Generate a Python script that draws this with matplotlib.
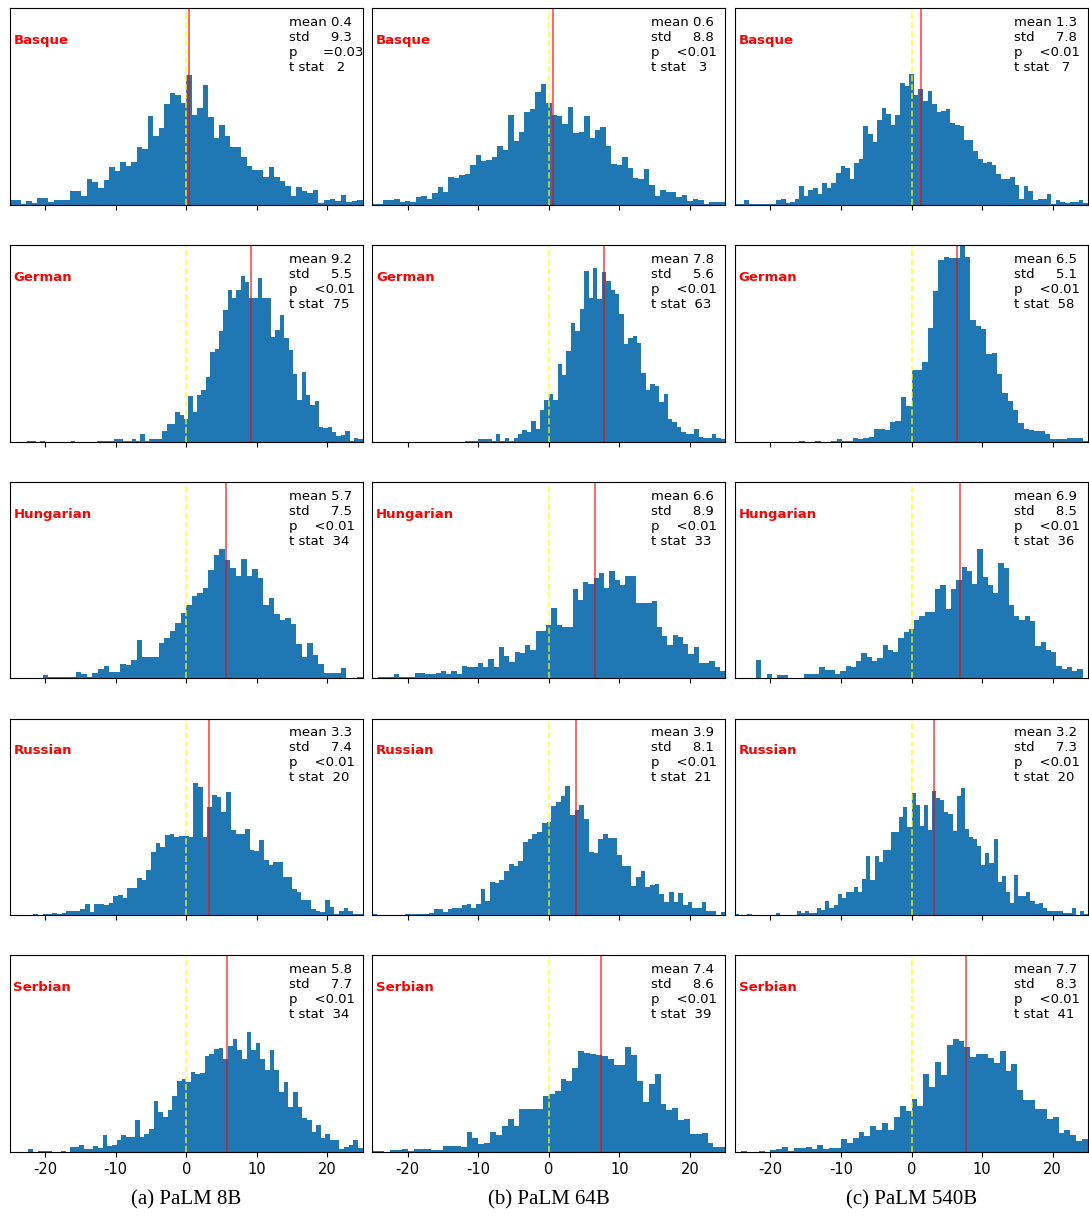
import numpy as np
import matplotlib.pyplot as plt

plt.rcParams['axes.unicode_minus'] = False

models = ['(a) PaLM 8B', '(b) PaLM 64B', '(c) PaLM 540B']
languages = ['Basque', 'German', 'Hungarian', 'Russian', 'Serbian']

# summary numbers printed in each panel (rows = languages)
mean_8b = [0.4, 9.2, 5.7, 3.3, 5.8]
std_8b = [9.3, 5.5, 7.5, 7.4, 7.7]
p_8b = ['=0.03', '<0.01', '<0.01', '<0.01', '<0.01']
t_8b = [2, 75, 34, 20, 34]

mean_64b = [0.6, 7.8, 6.6, 3.9, 7.4]
std_64b = [8.8, 5.6, 8.9, 8.1, 8.6]
p_64b = ['<0.01', '<0.01', '<0.01', '<0.01', '<0.01']
t_64b = [3, 63, 33, 21, 39]

mean_540b = [1.3, 6.5, 6.9, 3.2, 7.7]
std_540b = [7.8, 5.1, 8.5, 7.3, 8.3]
p_540b = ['<0.01', '<0.01', '<0.01', '<0.01', '<0.01']
t_540b = [7, 58, 36, 20, 41]

# histogram bar heights, bins spread evenly over [-25, 25]
basque_8b = [14, 14, 2, 12, 4, 19, 21, 7, 15, 15, 15, 42, 42, 27, 78, 69, 49, 75, 114, 102,
             129, 115, 129, 172, 168, 265, 207, 229, 302, 335, 329, 305, 390, 270, 289, 360,
             264, 199, 239, 207, 172, 172, 142, 117, 105, 105, 84, 112, 84, 70, 57, 27, 53,
             42, 34, 45, 4, 15, 17, 12, 30, 7, 12, 15]
basque_64b = [1, 3, 14, 14, 17, 8, 10, 8, 23, 26, 17, 34, 53, 38, 84, 80, 89, 92, 119, 149,
              131, 134, 142, 176, 164, 268, 191, 218, 278, 286, 338, 361, 306, 268, 265, 242,
              292, 216, 219, 265, 200, 224, 233, 176, 122, 120, 144, 110, 80, 77, 107, 58, 26,
              43, 38, 38, 23, 29, 10, 17, 14, 2, 8, 8, 8]
basque_540b = [3, 1, 14, 1, 3, 1, 1, 3, 3, 14, 18, 4, 8, 18, 57, 27, 45, 50, 32, 65, 50, 65,
               95, 116, 111, 77, 125, 137, 236, 212, 188, 254, 290, 272, 239, 269, 366, 356,
               393, 329, 347, 311, 341, 302, 278, 281, 288, 245, 239, 236, 195, 195, 162, 138,
               126, 128, 119, 92, 77, 77, 84, 59, 18, 57, 41, 14, 17, 17, 32, 1, 14, 8, 5, 8,
               8, 14, 4]

german_8b = [0, 0, 0, 0, 2, 1, 0, 1, 0, 0, 0, 0, 0, 0, 1, 0, 0, 0, 0, 0,
             2, 1, 1, 2, 8, 8, 2, 2, 8, 2, 23, 2, 8, 8, 8, 32, 53, 53, 88, 81, 68,
             136, 89, 141, 154, 193, 268, 278, 332, 394, 456, 432, 456, 496, 480, 432, 432,
             490, 432, 432, 314, 334, 380, 310, 276, 203, 126, 208, 141, 111, 122, 43, 41,
             43, 29, 16, 21, 31, 2, 12, 9]
german_64b = [0, 0, 0, 0, 0, 0, 0, 0, 0, 0, 0, 0, 0, 0, 0, 0, 0, 0, 0, 0, 0,
              1, 1, 1, 7, 7, 7, 1, 22, 1, 12, 2, 12, 24, 36, 30, 62, 38, 95, 126, 144,
              126, 232, 199, 273, 357, 333, 399, 513, 430, 522, 429, 509, 482, 455, 442, 384,
              294, 310, 318, 297, 207, 154, 174, 166, 118, 142, 68, 60, 44, 28, 24, 24, 37,
              14, 12, 12, 24, 12, 8]
german_540b = [0, 0, 0, 0, 0, 0, 0, 0, 0, 0, 0, 0, 1, 0, 0, 1, 0, 0, 1, 9, 1, 1, 12, 9,
               11, 14, 39, 39, 34, 60, 63, 135, 108, 214, 216, 240, 342, 452, 546, 555, 552,
               552, 620, 555, 366, 348, 339, 263, 266, 202, 147, 123, 96, 57, 37, 36, 33, 33,
               22, 9, 7, 9, 11, 12, 12, 2]

hungarian_8b = [2, 1, 2, 2, 0, 0, 9, 5, 5, 3, 5, 5, 20, 14, 3, 17, 27, 38, 20, 20, 44, 39,
                54, 114, 64, 64, 64, 107, 120, 141, 165, 195, 220, 246, 255, 271, 326, 371,
                388, 355, 330, 308, 359, 308, 327, 302, 221, 241, 193, 176, 182, 163, 102, 64,
                107, 69, 42, 17, 16, 17, 30, 2, 1, 3]
hungarian_64b = [1, 3, 3, 3, 13, 3, 4, 4, 15, 15, 12, 12, 17, 22, 13, 22, 13, 37, 34, 34, 46,
                 35, 58, 35, 94, 67, 50, 79, 76, 101, 85, 142, 142, 160, 210, 160, 154, 154,
                 268, 235, 288, 283, 301, 315, 271, 321, 295, 280, 306, 306, 226, 226, 226, 232,
                 153, 126, 101, 129, 123, 103, 73, 93, 46, 46, 53, 35, 23]
hungarian_540b = [0, 2, 0, 0, 55, 2, 12, 0, 9, 9, 1, 1, 1, 12, 12, 12, 34, 24, 24, 12, 21, 36,
                  34, 51, 75, 63, 51, 61, 99, 84, 78, 120, 138, 147, 175, 186, 199, 199, 267,
                  280, 207, 267, 294, 333, 321, 282, 387, 303, 279, 255, 345, 330, 219, 186,
                  174, 186, 171, 96, 108, 84, 78, 36, 27, 33, 21, 27, 2]

russian_8b = [1, 1, 1, 1, 1, 3, 1, 3, 3, 6, 3, 6, 12, 12, 12, 18, 33, 11, 33, 33, 30, 38, 57,
              60, 51, 83, 83, 113, 107, 137, 191, 218, 206, 242, 245, 236, 239, 239, 236, 398,
              386, 236, 326, 362, 356, 311, 371, 257, 245, 245, 260, 197, 194, 227, 167, 151,
              161, 161, 116, 116, 80, 71, 47, 47, 20, 14, 11, 47, 26, 5, 14, 21, 14, 3, 3]
russian_64b = [3, 0, 0, 2, 0, 0, 0, 3, 3, 3, 3, 3, 6, 20, 20, 11, 20, 23, 23, 32, 35, 23, 35,
               80, 44, 101, 98, 107, 134, 155, 149, 164, 221, 230, 245, 251, 278, 281, 329,
               341, 359, 389, 301, 315, 332, 290, 191, 188, 230, 245, 233, 233, 182, 149, 149,
               89, 116, 134, 86, 92, 95, 65, 41, 71, 41, 68, 32, 41, 23, 23, 41, 14, 14, 2, 11]
russian_540b = [3, 0, 0, 3, 0, 0, 0, 0, 0, 0, 8, 2, 0, 2, 2, 14, 8, 14, 8, 8, 23, 17, 44, 23,
                30, 65, 53, 71, 71, 86, 71, 110, 179, 107, 179, 161, 197, 197, 251, 251, 296,
                326, 266, 368, 332, 269, 332, 257, 374, 353, 347, 311, 305, 254, 359, 383, 260,
                236, 230, 209, 152, 188, 158, 230, 101, 119, 71, 38, 122, 59, 59, 71, 44, 35,
                38, 23, 14, 14, 14, 14, 8, 8, 23, 2, 14, 3]

serbian_8b = [0, 0, 0, 0, 10, 0, 4, 4, 4, 0, 0, 4, 0, 14, 14, 22, 10, 10, 19, 13, 52, 19, 22,
              37, 52, 44, 44, 97, 46, 55, 70, 154, 121, 106, 127, 169, 214, 220, 211, 241,
              235, 238, 289, 295, 310, 311, 280, 319, 340, 307, 280, 361, 307, 328, 280, 247,
              307, 247, 181, 211, 134, 181, 136, 103, 97, 61, 82, 43, 53, 37, 37, 10, 16, 22,
              37, 13]
serbian_64b = [3, 3, 1, 6, 6, 9, 4, 10, 10, 10, 7, 7, 19, 19, 19, 16, 61, 43, 25, 28, 61, 52,
               79, 100, 79, 129, 129, 129, 129, 167, 173, 182, 219, 214, 253, 304, 297, 294,
               291, 288, 280, 262, 262, 316, 291, 213, 150, 204, 234, 145, 126, 132, 97, 100,
               55, 55, 58, 27, 15, 15]
serbian_540b = [0, 3, 0, 0, 3, 0, 7, 10, 16, 4, 13, 13, 16, 10, 22, 10, 13, 13, 40, 28, 43,
                61, 49, 79, 67, 88, 67, 106, 139, 124, 160, 139, 234, 196, 271, 232, 322, 340,
                334, 316, 286, 295, 295, 283, 268, 304, 244, 265, 187, 157, 157, 130, 130, 100,
                106, 58, 67, 52, 34, 40]

counts = {
    'Basque': [basque_8b, basque_64b, basque_540b],
    'German': [german_8b, german_64b, german_540b],
    'Hungarian': [hungarian_8b, hungarian_64b, hungarian_540b],
    'Russian': [russian_8b, russian_64b, russian_540b],
    'Serbian': [serbian_8b, serbian_64b, serbian_540b],
}
means = [mean_8b, mean_64b, mean_540b]
stds = [std_8b, std_64b, std_540b]
pvals = [p_8b, p_64b, p_540b]
tstats = [t_8b, t_64b, t_540b]

fig, axes = plt.subplots(5, 3, figsize=(10.89, 12.16), dpi=100, sharex=True)
fig.subplots_adjust(left=0.009, right=0.999, top=0.9934, bottom=0.0526,
                    wspace=0.028, hspace=0.204)

for i, lang in enumerate(languages):
    for j in range(3):
        ax = axes[i, j]
        h = counts[lang][j]
        edges = np.linspace(-25, 25, len(h) + 1)
        centers = (edges[:-1] + edges[1:]) / 2
        ax.hist(centers, bins=edges, weights=h, color='#1f77b4')
        ax.axvline(0, color='yellow', ls='--', lw=1.2, alpha=0.75)
        ax.axvline(means[j][i], color='red', lw=1.3, alpha=0.65)
        ax.set_xlim(-25, 25)
        ax.set_ylim(0, 590)
        ax.set_yticks([])
        ax.set_xticks([-20, -10, 0, 10, 20])
        ax.tick_params(axis='x', labelsize=10.5)
        ax.text(0.01, 0.835, lang, transform=ax.transAxes, color='red',
                fontsize=9.5, fontweight='bold', va='center')
        p = pvals[j][i]
        # the "=" p-value sits a little further right in the source figure
        p_str = f"p {p:>8}" if p.startswith('<') else f"p   {p:>8}"
        txt = (f"mean {means[j][i]:.1f}\nstd {stds[j][i]:>7.1f}\n"
               f"{p_str}\nt stat {tstats[j][i]:>3d}")
        ax.text(0.79, 0.96, txt, transform=ax.transAxes, fontsize=9.5,
                va='top', ha='left', linespacing=1.2)

for j, name in enumerate(models):
    pos = axes[4, j].get_position()
    fig.text((pos.x0 + pos.x1) / 2, 0.0135, name, ha='center', va='center',
             fontsize=15, family='Liberation Serif')

fig.savefig('out.png', dpi=100)
